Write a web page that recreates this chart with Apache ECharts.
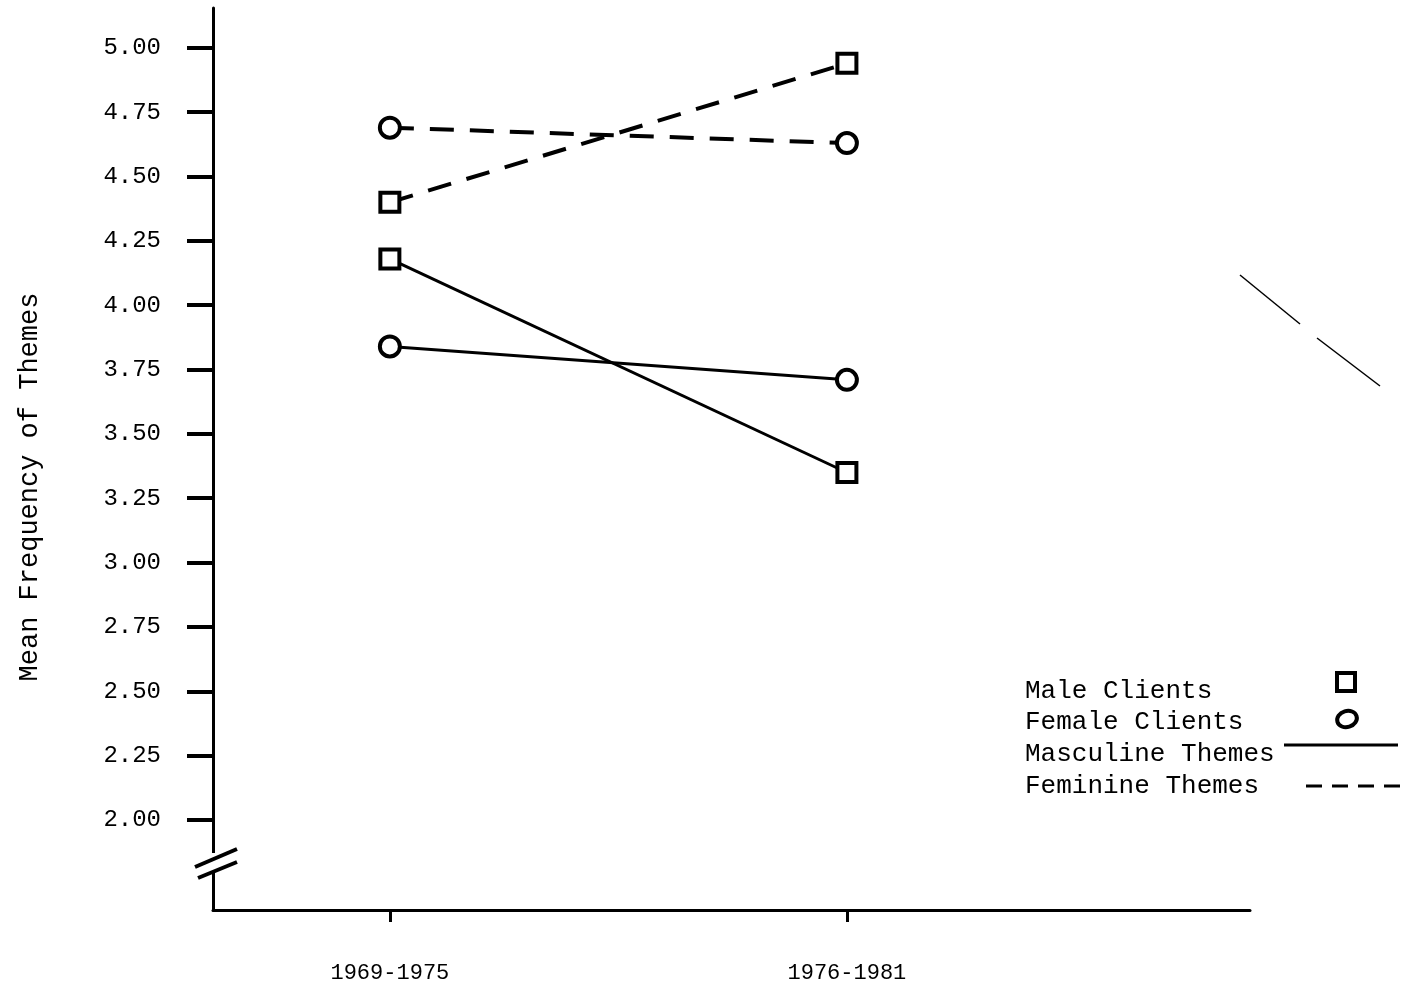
<!DOCTYPE html>
<html>
<head>
<meta charset="utf-8">
<title>Mean Frequency of Themes</title>
<script src="https://cdn.jsdelivr.net/npm/echarts@6/dist/echarts.min.js"></script>
<style>
html, body { margin:0; padding:0; background:#fff; }
#chart { width:1413px; height:992px; }
</style>
</head>
<body>
<div id="chart"></div>
<script>
// data
var categories = ['1969-1975', '1976-1981'];
var yTicks = [2.00, 2.25, 2.50, 2.75, 3.00, 3.25, 3.50, 3.75, 4.00, 4.25, 4.50, 4.75, 5.00];
var maleMasculine = [4.18, 3.35];
var femaleMasculine = [3.84, 3.71];
var maleFeminine = [4.40, 4.94];
var femaleFeminine = [4.69, 4.63];

var FONT = '"Liberation Mono", "DejaVu Sans Mono", monospace';
var INK = '#000';

function toPoints(values){
	var pts = [];
	for (var i = 0; i < values.length; i++){
		pts.push([i, values[i]]);
	}
	return pts;
}

function makeSeries(name, values, symbol, dashed){
	return {
		name: name,
		type: 'line',
		data: toPoints(values),
		symbol: symbol,
		symbolSize: symbol == 'rect' ? 19 : 20,
		showSymbol: true,
		z: 5,
		itemStyle: { color: '#fff', borderColor: INK, borderWidth: 4 },
		lineStyle: { color: INK, width: dashed ? 4 : 3, type: dashed ? [24, 16] : 'solid' },
		emphasis: { disabled: true },
		animation: false
	};
}

var chart = echarts.init(document.getElementById('chart'));

var option = {
	backgroundColor: '#fff',
	animation: false,
	grid: { left: 213, right: 163, top: 8, bottom: 82, containLabel: false, outerBoundsMode: 'none' },
	xAxis: {
		type: 'value',
		min: -0.387,
		max: 1.882,
		splitLine: { show: false },
		axisLine: { show: true, onZero: false, lineStyle: { color: INK, width: 3 } },
		axisTick: { show: true, customValues: [0, 1], length: 12, lineStyle: { color: INK, width: 3 } },
		axisLabel: {
			customValues: [0, 1],
			formatter: function(v){ return categories[Math.round(v)]; },
			margin: 52,
			color: INK,
			fontFamily: FONT,
			fontSize: 22
		}
	},
	yAxis: {
		type: 'value',
		min: 1.65,
		max: 5.155,
		splitLine: { show: false },
		axisLine: { show: true, onZero: false, lineStyle: { color: INK, width: 3 } },
		axisTick: { show: true, customValues: yTicks, length: 26, lineStyle: { color: INK, width: 4 } },
		axisLabel: {
			customValues: yTicks,
			formatter: function(v){ return v.toFixed(2); },
			margin: 52,
			color: INK,
			fontFamily: FONT,
			fontSize: 24
		}
	},
	series: [
		makeSeries('Male Clients / Masculine Themes', maleMasculine, 'rect', false),
		makeSeries('Female Clients / Masculine Themes', femaleMasculine, 'circle', false),
		makeSeries('Male Clients / Feminine Themes', maleFeminine, 'rect', true),
		makeSeries('Female Clients / Feminine Themes', femaleFeminine, 'circle', true)
	],
	graphic: [
		// axis title
		{
			type: 'text', x: 30, y: 487, rotation: Math.PI / 2,
			style: { text: 'Mean Frequency of Themes', font: '27px ' + FONT, fill: INK, align: 'center', verticalAlign: 'middle' }
		},
		// axis break on the y axis
		{ type: 'rect', shape: { x: 203, y: 853, width: 20, height: 18 }, style: { fill: '#fff' }, z: 50 },
		{ type: 'line', shape: { x1: 195, y1: 867, x2: 237, y2: 849 }, style: { stroke: INK, lineWidth: 4 }, z: 51 },
		{ type: 'line', shape: { x1: 198, y1: 878, x2: 237, y2: 862 }, style: { stroke: INK, lineWidth: 4 }, z: 51 },
		// legend
		{ type: 'text', x: 1025, y: 691, style: { text: 'Male Clients', font: '26px ' + FONT, fill: INK, verticalAlign: 'middle' } },
		{ type: 'text', x: 1025, y: 722, style: { text: 'Female Clients', font: '26px ' + FONT, fill: INK, verticalAlign: 'middle' } },
		{ type: 'text', x: 1025, y: 754, style: { text: 'Masculine Themes', font: '26px ' + FONT, fill: INK, verticalAlign: 'middle' } },
		{ type: 'text', x: 1025, y: 786, style: { text: 'Feminine Themes', font: '26px ' + FONT, fill: INK, verticalAlign: 'middle' } },
		{ type: 'rect', shape: { x: 1337, y: 673, width: 18, height: 18 }, style: { fill: '#fff', stroke: INK, lineWidth: 4 } },
		{ type: 'ellipse', shape: { cx: 1347, cy: 719, rx: 10, ry: 8 }, rotation: 0.3, originX: 1347, originY: 719, style: { fill: '#fff', stroke: INK, lineWidth: 4 } },
		{ type: 'line', shape: { x1: 1284, y1: 745, x2: 1398, y2: 745 }, style: { stroke: INK, lineWidth: 3 } },
		{ type: 'line', shape: { x1: 1306, y1: 786, x2: 1405, y2: 786 }, style: { stroke: INK, lineWidth: 3, lineDash: [16, 10] } },
		// stray marks on the scan
		{ type: 'line', shape: { x1: 1240, y1: 275, x2: 1300, y2: 324 }, style: { stroke: INK, lineWidth: 1.5 } },
		{ type: 'line', shape: { x1: 1317, y1: 338, x2: 1380, y2: 386 }, style: { stroke: INK, lineWidth: 1.5 } }
	]
};

chart.setOption(option);
</script>
</body>
</html>
